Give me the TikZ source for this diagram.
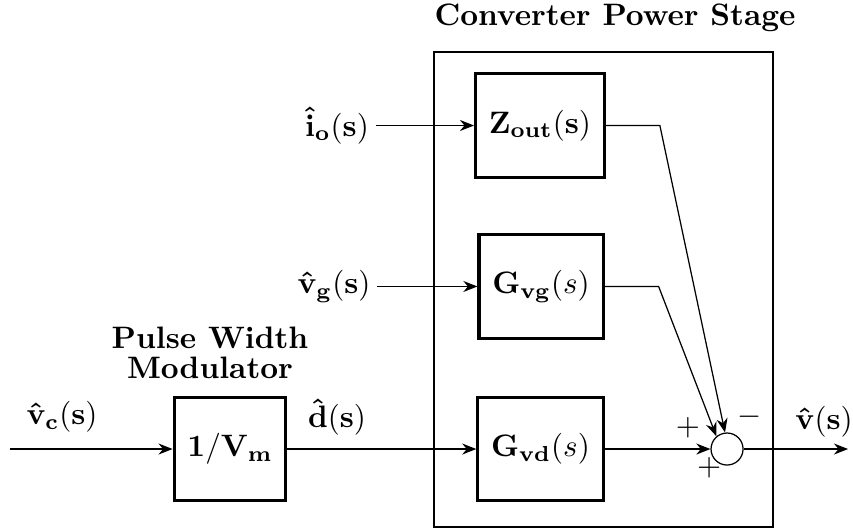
\documentclass[tikz,border=0pt]{standalone}
\usepackage{amsmath,amssymb}
\usetikzlibrary{arrows.meta,positioning}

\begin{document}
\begin{tikzpicture}[
    block/.style={draw,line width=1pt,minimum height=1.17cm,inner xsep=4.3pt,inner ysep=3.33pt},
    sumnode/.style={draw,circle,minimum size=0.363cm,inner sep=0pt},
    arr/.style={-{Stealth[length=1.6mm,width=1.25mm]}},
    lbl/.style={inner sep=2pt},
    sign/.style={inner sep=0pt}
  ]
    \useasboundingbox (0,0) rectangle (9.671,-5.998);
    % power stage frame
    \node[draw,minimum width=3.844cm,minimum height=5.385cm] (stage) at (6.842,-3.282) {};
    \node (stagetitle) at (6.973,-0.204) {\textbf{Converter Power Stage}};
    % blocks
    \node[block] (zout) at (6.122,-1.423) {$\mathbf{Z_{out}(s)}$};
    \node[block] (gvg) at (6.134,-3.248) {$\mathbf{G_{vg}}(s)$};
    \node[block] (gvd) at (6.128,-5.091) {$\mathbf{G_{vd}}(s)$};
    \node[block] (pwm) at (2.608,-5.091) {$\mathbf{1/V_m}$};
    \node[align=center] (pwmtitle) at (2.381,-4.002) {\textbf{Pulse Width}\\[-2.5pt]\textbf{Modulator}};
    \node[sumnode] (sum) at (8.243,-5.091) {};
    % signals
    \node[lbl] (io) at (3.821,-1.423) {$\mathbf{\hat{i}_o(s)}$};
    \node[lbl] (vg) at (3.787,-3.248) {$\mathbf{\hat{v}_g(s)}$};
    \node (vc) at (0.703,-4.728) {$\mathbf{\hat{v}_c(s)}$};
    \node (dhat) at (3.821,-4.728) {$\mathbf{\hat{d}(s)}$};
    \node (vout) at (9.342,-4.785) {$\mathbf{\hat{v}(s)}$};
    \coordinate (vcin) at (0.113,-5.091);
    \coordinate (voutend) at (9.615,-5.091);
    % signs
    \node[sign] (plusa) at (7.800,-4.853) {$+$};
    \node[sign] (plusb) at (8.039,-5.306) {$+$};
    \node[sign] (minus) at (8.503,-4.728) {$-$};
    \draw[arr] (io) -- (zout);
    \draw[arr] (vg) -- (gvg);
    \draw[arr] (vcin) -- (pwm);
    \draw[arr] (pwm) -- (gvd);
    \draw[arr] (gvd) -- (sum);
    \draw[arr] (zout.east) -- ++(0.612,0) -- (sum.97);
    \draw[arr] (gvg.east) -- ++(0.612,0) -- (sum.130);
    \draw[arr] (sum) -- (voutend);
  \end{tikzpicture}
\end{document}
